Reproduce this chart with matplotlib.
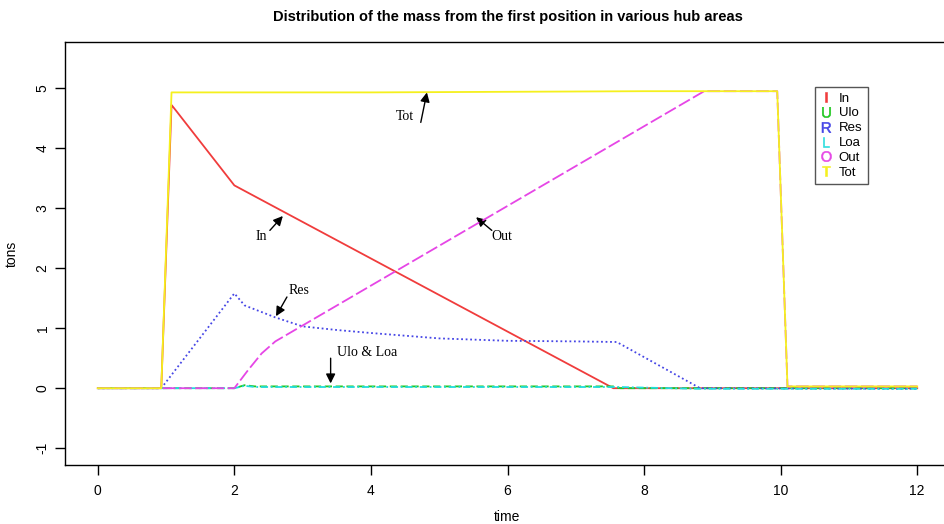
import matplotlib
matplotlib.use("Agg")
from matplotlib import pyplot as plt
from matplotlib.lines import Line2D

plt.rcParams["font.family"] = ["Liberation Sans", "DejaVu Sans"]
plt.rcParams["axes.unicode_minus"] = False

# breakpoints (time, tons)
in_t = [0, 0.93, 1.08, 1.15, 2.0, 7.55, 12]
in_y = [0, 0, 4.72, 4.62, 3.38, 0.0, 0.0]

ulo_t = [0, 2.0, 2.15, 2.3, 7.55, 7.65, 12]
ulo_y = [0, 0, 0.05, 0.03, 0.03, 0.0, 0.0]

res_t = [0, 0.93, 2.0, 2.15, 2.6, 3.0, 3.5, 4.0, 5.0, 6.0, 7.0, 7.6, 8.82, 12]
res_y = [0, 0, 1.58, 1.38, 1.18, 1.03, 0.97, 0.92, 0.83, 0.79, 0.78, 0.77, 0.0, -0.01]

loa_t = [0, 2.0, 2.15, 2.3, 7.6, 8.8, 12]
loa_y = [0, 0, 0.04, 0.02, 0.02, -0.01, -0.01]

out_t = [0, 2.0, 2.2, 2.4, 2.6, 8.88, 9.95, 10.1, 12]
out_y = [0, 0, 0.3, 0.58, 0.78, 4.95, 4.95, 0.03, 0.03]

tot_t = [0, 0.93, 1.08, 4.0, 8.0, 9.95, 10.1, 12]
tot_y = [0, 0, 4.93, 4.93, 4.95, 4.95, 0.03, 0.03]

names = ["In", "Ulo", "Res", "Loa", "Out", "Tot"]
letters = ["I", "U", "R", "L", "O", "T"]
colors = ["#F03C3C", "#22C822", "#4646E6", "#20DCDC", "#E646E6", "#F5F01E"]

# annotation labels: (text, text pos, arrow tail, arrow head)
notes = [
    ("Tot", (4.50, 4.52), (4.73, 4.43), (4.82, 4.93)),
    ("In", (2.39, 2.53), (2.52, 2.63), (2.71, 2.87)),
    ("Out", (5.92, 2.53), (5.77, 2.63), (5.54, 2.85)),
    ("Res", (2.94, 1.63), (2.77, 1.52), (2.61, 1.20)),
    ("Ulo & Loa", (3.94, 0.60), (3.41, 0.50), (3.41, 0.08)),
]

W, H = 944, 524


def main():
    fig = plt.figure(figsize=(W / 100, H / 100), dpi=100)
    ax = fig.add_axes([65 / W, 1 - 465 / H, (950 - 65) / W, (465 - 42) / H])

    series = [(in_t, in_y, "-"), (ulo_t, ulo_y, (0, (4, 2))), (res_t, res_y, (0, (1, 1.5))),
              (loa_t, loa_y, (0, (1, 1.5, 4, 1.5))), (out_t, out_y, (0, (7, 2))),
              (tot_t, tot_y, "-")]
    order = [5, 0, 1, 3, 2, 4]
    for i in order:
        t, y, ls = series[i]
        ax.plot(t, y, color=colors[i], linestyle=ls, linewidth=1.3, zorder=3 + i)

    ax.set_xlim(-0.48, 12.48)
    ax.set_ylim(-1.28, 5.77)
    ax.set_xticks(range(0, 13, 2))
    ax.set_yticks(range(-1, 6))
    for lab in ax.get_yticklabels():
        lab.set_rotation(90)
        lab.set_va("center")
    ax.tick_params(length=7, width=1, labelsize=10, pad=4, direction="out")
    ax.tick_params(axis="x", pad=7)
    for s in ax.spines.values():
        s.set_linewidth(1)

    ax.set_xlabel("time", fontsize=10, labelpad=8)
    ax.set_ylabel("tons", fontsize=10, labelpad=12)
    fig.text(508 / W, 1 - 17 / H, "Distribution of the mass from the first position in various hub areas",
             ha="center", va="center", fontsize=10.5, fontweight="bold")

    arrow = dict(arrowstyle="-|>", color="black", lw=1, mutation_scale=14, shrinkA=0, shrinkB=0)
    for txt, pos, tail, head in notes:
        ax.annotate("", xy=head, xytext=tail, arrowprops=arrow)
        ax.text(pos[0], pos[1], txt, fontsize=10, family="Liberation Serif",
                ha="center", va="center")

    handles = [Line2D([], [], marker=f"$\\mathregular{{{c}}}$", linestyle="none",
                      color=col, markersize=7.5, markeredgewidth=0.4)
               for c, col in zip(letters, colors)]
    ax.legend(handles, names, loc="upper left", bbox_to_anchor=(815 / W, 1 - 87 / H),
              bbox_transform=fig.transFigure, frameon=True, fancybox=False, edgecolor="#555555",
              framealpha=1, fontsize=9.5, handlelength=0.8, handletextpad=0.6,
              labelspacing=0.2, borderpad=0.4, borderaxespad=0)

    fig.savefig("out.png", dpi=100)


if __name__ == "__main__":
    main()
